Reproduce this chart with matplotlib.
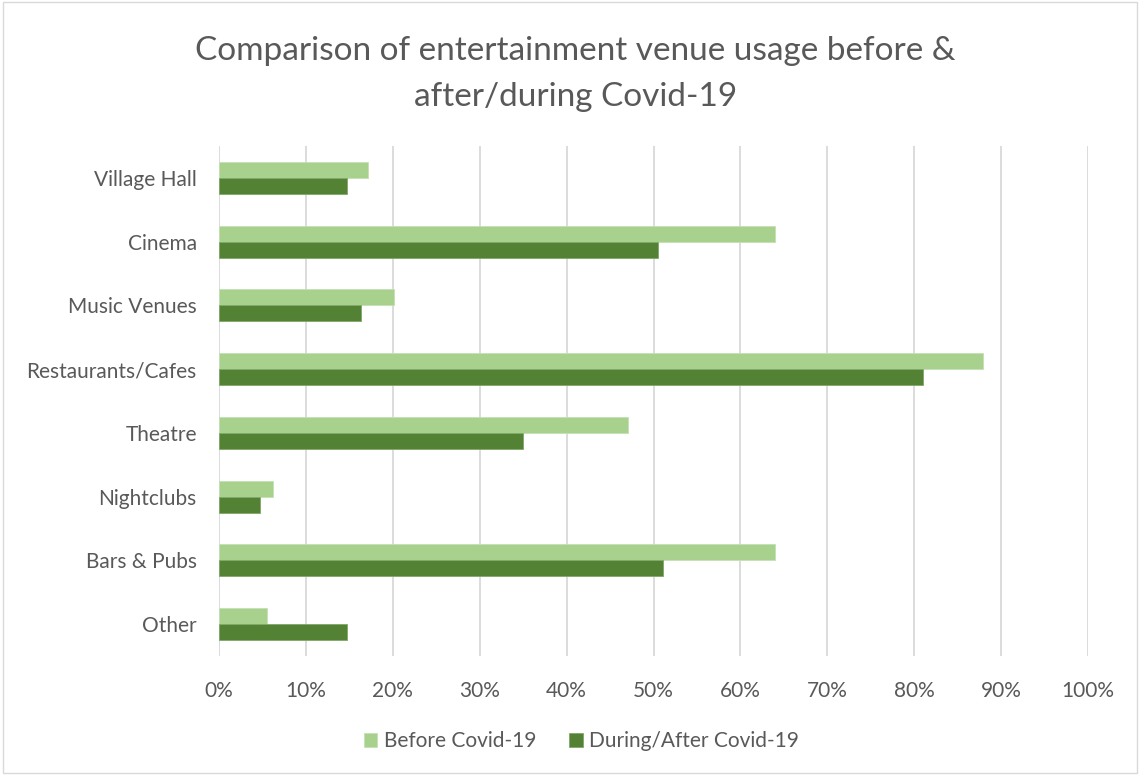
import matplotlib
matplotlib.use("Agg")
import matplotlib.pyplot as plt
from matplotlib.patches import Rectangle
import numpy as np

venues = ["Village Hall", "Cinema", "Music Venues", "Restaurants/Cafes",
          "Theatre", "Nightclubs", "Bars & Pubs", "Other"]
before = [17.1, 64.0, 20.1, 87.9, 47.1, 6.2, 64.0, 5.5]
during = [14.7, 50.5, 16.3, 81.0, 35.0, 4.7, 51.1, 14.7]
x_ticks = [0, 10, 20, 30, 40, 50, 60, 70, 80, 90, 100]

light_green = "#A9D18E"
dark_green = "#548235"
text_color = "#595959"
grid_color = "#D9D9D9"

plt.rcParams["font.family"] = ["Lato", "DejaVu Sans"]

fig = plt.figure(figsize=(11.4, 7.75), dpi=100)
fig.patches.append(Rectangle((0.003, 0.003), 0.994, 0.994, transform=fig.transFigure,
                             fill=False, edgecolor="#D9D9D9", linewidth=1))

ax = fig.add_axes([219 / 1140, 1 - 656 / 775, (1088 - 219) / 1140, (656 - 146) / 775])

y = np.arange(len(venues))
h = 0.25
ax.barh(y - h / 2, before, height=h, color=light_green, edgecolor="#C5E0B4",
        linewidth=0.6, label="Before Covid-19", zorder=3)
ax.barh(y + h / 2, during, height=h, color=dark_green, edgecolor="#7FA868",
        linewidth=0.6, label="During/After Covid-19", zorder=3)

ax.set_xlim(0, 100)
ax.set_ylim(len(venues) - 0.5, -0.5)
ax.set_yticks(y)
ax.set_yticklabels(venues)
ax.set_xticks(x_ticks)
ax.set_xticklabels([f"{t}%" for t in x_ticks])
ax.tick_params(axis="both", length=0, labelsize=15, labelcolor=text_color)
ax.tick_params(axis="y", pad=16)
ax.tick_params(axis="x", pad=18)
ax.grid(axis="x", color=grid_color, linewidth=1.3, zorder=0)
for s in ax.spines.values():
    s.set_visible(False)

fig.text(0.505, 1 - 74 / 775,
         "Comparison of entertainment venue usage before &\nafter/during Covid-19",
         ha="center", va="center", fontsize=24, color=text_color, linespacing=1.68)

fig.legend(loc="center", bbox_to_anchor=(0.51, 1 - 741 / 775), ncol=2, frameon=False,
           fontsize=15, labelcolor=text_color, handlelength=0.65, handleheight=0.65,
           handletextpad=0.3, columnspacing=1.6)

fig.savefig("out.png", dpi=100)
